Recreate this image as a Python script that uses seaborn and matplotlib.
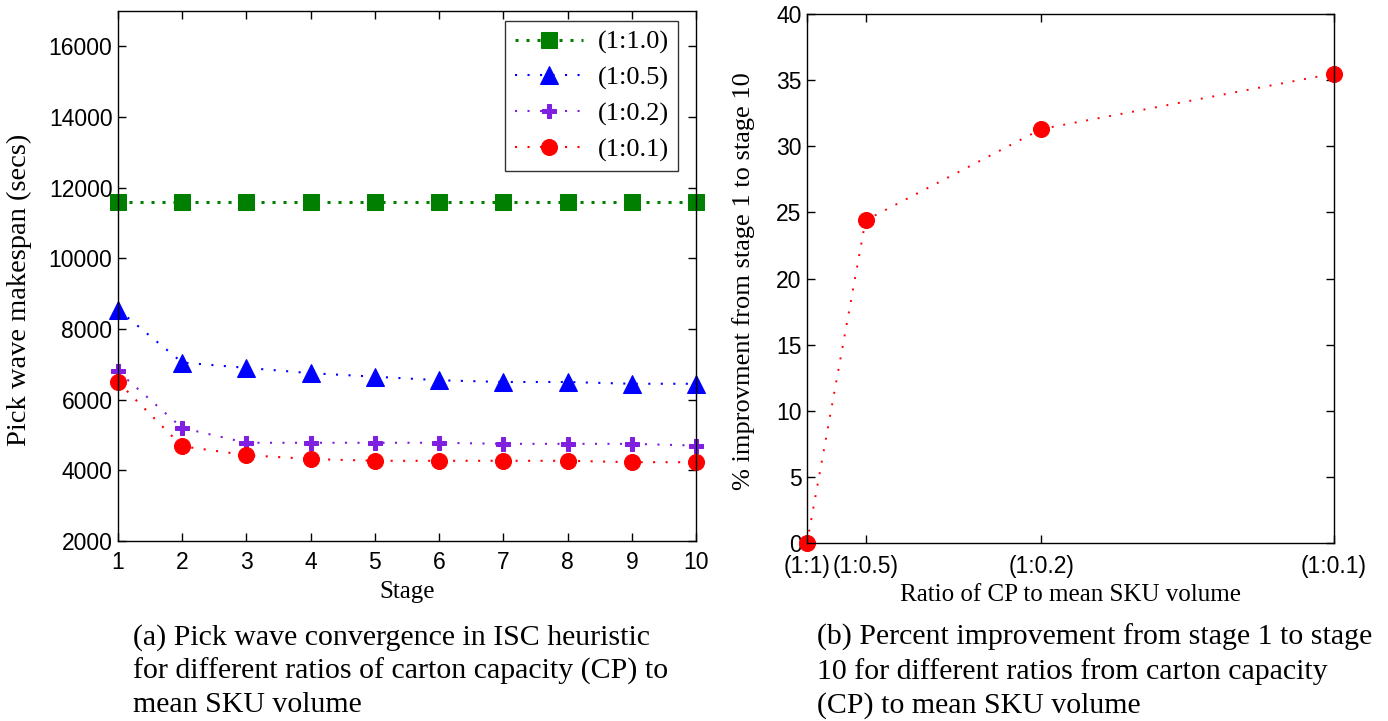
import numpy as np
import pandas as pd
import matplotlib
matplotlib.use("Agg")
import matplotlib.pyplot as plt
import seaborn as sns

# ---- data ----
stages = [1, 2, 3, 4, 5, 6, 7, 8, 9, 10]
ratio_labels = ["(1:1.0)", "(1:0.5)", "(1:0.2)", "(1:0.1)"]
makespan_1_10 = [11600, 11600, 11600, 11600, 11600, 11600, 11600, 11600, 11600, 11600]
makespan_1_05 = [8550, 7050, 6900, 6750, 6650, 6550, 6500, 6500, 6450, 6450]
makespan_1_02 = [6800, 5200, 4780, 4780, 4780, 4780, 4750, 4750, 4750, 4700]
makespan_1_01 = [6500, 4680, 4430, 4320, 4270, 4270, 4270, 4270, 4230, 4230]

ratio_x = [1, 2, 5, 10]
ratio_ticklabels = ["(1:1)", "(1:0.5)", "(1:0.2)", "(1:0.1)"]
improvement_pct = [0.0, 24.4, 31.3, 35.5]

sns.set_style("ticks")
plt.rcParams["font.family"] = ["Liberation Sans", "DejaVu Sans"]
for key in ("text.color", "axes.labelcolor", "xtick.color", "ytick.color",
            "axes.edgecolor"):
    plt.rcParams[key] = "black"

serif = "Liberation Serif"
W, H = 1388, 721

fig = plt.figure(figsize=(W / 100, H / 100), dpi=100)
ax1 = fig.add_axes([118 / W, 1 - 541 / H, 578 / W, 530 / H])
ax2 = fig.add_axes([807 / W, 1 - 543 / H, 527 / W, 529 / H])

series = [
    (makespan_1_10, "#007f00", "s", 11.5, 2.2, (0, (1, 2.6))),
    (makespan_1_05, "#0000ff", "^", 13.5, 1.5, (0, (1, 5))),
    (makespan_1_02, "#7f1fdf", "P", 10.5, 1.5, (0, (1, 5))),
    (makespan_1_01, "#ff0000", "o", 11.5, 1.5, (0, (1, 5))),
]
for (vals, col, mk, ms, lw, ls), lab in zip(series, ratio_labels):
    df = pd.DataFrame({"stage": stages, "makespan": vals})
    sns.lineplot(data=df, x="stage", y="makespan", ax=ax1, color=col,
                 marker=mk, markersize=ms, markeredgecolor=col,
                 linestyle=ls, linewidth=lw, clip_on=False, label=lab)

ax1.set_xlim(1, 10)
ax1.set_ylim(2000, 17000)
ax1.set_xticks(stages)
ax1.set_yticks(np.arange(2000, 17000, 2000))
ax1.set_xlabel("Stage", family=serif, fontsize=18, labelpad=5)
ax1.set_ylabel("Pick wave makespan (secs)", family=serif, fontsize=20.5)
ax1.yaxis.set_label_coords(-0.149, 0.474)
leg = ax1.legend(loc="upper right", bbox_to_anchor=(0.969, 0.981),
                 borderaxespad=0, prop={"family": serif, "size": 19},
                 frameon=True, fancybox=False, edgecolor="black",
                 handlelength=2.6, labelspacing=0.45,
                 borderpad=0.35, handletextpad=0.55)
leg.get_frame().set_linewidth(1.0)

ax2_df = pd.DataFrame({"ratio": ratio_x, "pct": improvement_pct})
sns.lineplot(data=ax2_df, x="ratio", y="pct", ax=ax2, color="#ff0000",
             marker="o", markersize=11.5, markeredgecolor="#ff0000",
             linestyle=(0, (1, 5)), linewidth=1.4, clip_on=False)
ax2.set_xlim(1, 10)
ax2.set_ylim(0, 40)
ax2.set_xticks(ratio_x)
ax2.set_xticklabels(ratio_ticklabels)
ax2.set_yticks(np.arange(0, 41, 5))
ax2.set_xlabel("Ratio of CP to mean SKU volume", family=serif, fontsize=18,
               labelpad=4)
ax2.set_ylabel("% improvment from stage 1 to stage 10", family=serif, fontsize=19)
ax2.yaxis.set_label_coords(-0.099, 0.495)

for ax in (ax1, ax2):
    ax.tick_params(direction="in", top=True, right=True, length=6, width=1,
                   labelsize=16.5, color="black", labelcolor="black")
    ax.tick_params(axis="x", pad=7)
    ax.tick_params(axis="y", pad=4)
    for sp in ax.spines.values():
        sp.set_visible(True)
        sp.set_linewidth(1.0)
        sp.set_color("black")
ax2.tick_params(axis="x", pad=9)

cap_kw = dict(family=serif, fontsize=21.5, va="top", ha="left", linespacing=1.33)
fig.text(133 / W, 1 - 624 / H,
         "(a) Pick wave convergence in ISC heuristic\n"
         "for different ratios of carton capacity (CP) to\n"
         "mean SKU volume", **cap_kw)
fig.text(817 / W, 1 - 624 / H,
         "(b) Percent improvement from stage 1 to stage\n"
         "10 for different ratios from carton capacity\n"
         "(CP) to mean SKU volume", **cap_kw)

fig.savefig("out.png", dpi=100)
